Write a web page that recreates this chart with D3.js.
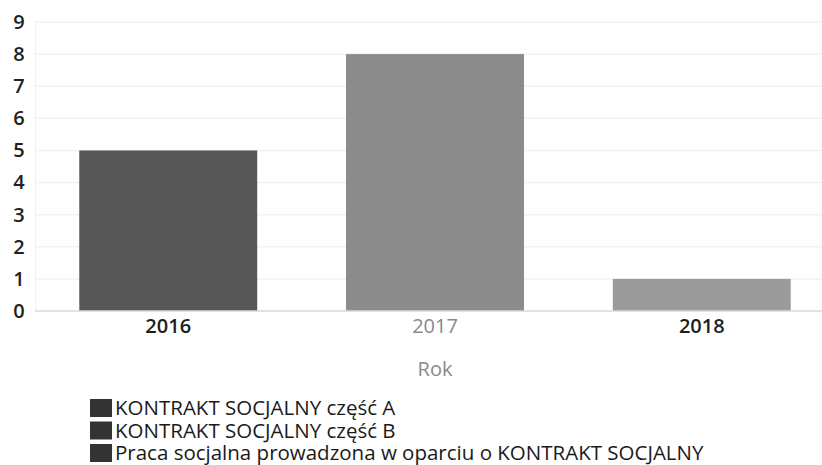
<!DOCTYPE html>
<html><head><meta charset="utf-8">
<script src="https://cdn.jsdelivr.net/npm/d3@7"></script>
<style>body{margin:0;background:#fff}svg{display:block}</style>
</head><body>
<svg id="c" width="822" height="465"></svg>
<script>
const years = ["2016", "2017", "2018"];
const seriesNames = ["KONTRAKT SOCJALNY część A", "KONTRAKT SOCJALNY część B", "Praca socjalna prowadzona w oparciu o KONTRAKT SOCJALNY"];
const seriesA = [5, 0, 0];
const seriesB = [0, 8, 0];
const seriesC = [0, 0, 1];
const yTicks = [0,1,2,3,4,5,6,7,8,9];
const barColors = ["#575757", "#8b8b8b", "#9b9b9b"];
const xLabelStyle = [{c:"#1e1e1e",w:"600"},{c:"#8a8a8a",w:"normal"},{c:"#1e1e1e",w:"600"}];

(function(){
const svg = d3.select("#c");
const pTop = 22, pBottom = 311, pLeft = 35, pRight = 835;
const x = d3.scaleBand().domain(years).range([pLeft, pRight]).paddingInner(0.333).paddingOuter(0.166);
const y = d3.scaleLinear().domain([0, 9]).range([pBottom, pTop]);

// grid
svg.append("g").selectAll("line").data(yTicks.slice(1)).join("line")
  .attr("x1", pLeft).attr("x2", 822).attr("y1", d => y(d)).attr("y2", d => y(d))
  .attr("stroke", "#f2f2f2").attr("stroke-width", 1.5);

// stacked data
const table = years.map((yr, i) => ({year: yr, a: seriesA[i], b: seriesB[i], c: seriesC[i]}));
const stack = d3.stack().keys(["a","b","c"])(table);
svg.append("g").selectAll("g").data(stack).join("g")
  .attr("fill", (d, i) => barColors[i])
  .selectAll("rect").data(d => d.filter(v => v[1] - v[0] > 0)).join("rect")
  .attr("x", d => x(d.data.year)).attr("width", x.bandwidth())
  .attr("y", d => y(d[1])).attr("height", d => y(d[0]) - y(d[1]));

// axes
const yAxis = svg.append("g").attr("transform", `translate(${pLeft},0)`)
  .call(d3.axisLeft(y).tickValues(yTicks).tickSize(0).tickPadding(14).tickFormat(d3.format("d")));
yAxis.select(".domain").attr("stroke", "#f0f0f0");
yAxis.selectAll("text").attr("font-family", "Open Sans").attr("font-size", 20)
  .attr("fill", "#222").attr("font-weight", "600").attr("text-anchor", "middle").attr("x", -16);

const xAxis = svg.append("g").attr("transform", `translate(0,${pBottom})`)
  .call(d3.axisBottom(x).tickSize(0).tickPadding(8));
xAxis.select(".domain").attr("stroke", "#d8d8d8").attr("stroke-width", 1.5).attr("d", `M${pLeft},0H822`);
xAxis.selectAll("text").attr("font-family", "Open Sans").attr("font-size", 20)
  .attr("fill", (d, i) => xLabelStyle[i].c).attr("font-weight", (d, i) => xLabelStyle[i].w);

svg.append("text").attr("x", x("2017") + x.bandwidth() / 2).attr("y", 376).attr("text-anchor", "middle")
  .attr("font-family", "Open Sans").attr("font-size", 20).attr("fill", "#8a8a8a").text("Rok");

// legend
const lg = svg.append("g").attr("transform", "translate(90,399)");
const items = lg.selectAll("g").data(seriesNames).join("g").attr("transform", (d, i) => `translate(0,${i * 22.5})`);
items.append("rect").attr("width", 22).attr("height", 18).attr("fill", "#333");
items.append("text").attr("x", 25).attr("y", 16).attr("font-family", "Open Sans").attr("font-size", 20.5)
  .attr("fill", "#1a1a1a").text(d => d);
})();
</script>
</body></html>
